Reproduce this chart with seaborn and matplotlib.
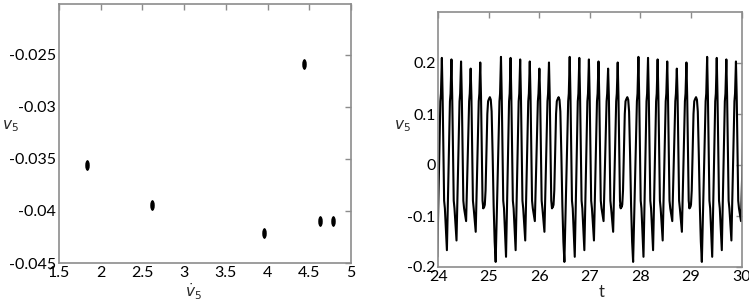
import numpy as np
import pandas as pd
import matplotlib
matplotlib.use("Agg")
import matplotlib.pyplot as plt
from matplotlib.path import Path
from matplotlib.transforms import Affine2D
import seaborn as sns

# ── Left panel: Poincare section points ────────────────────────────────────
SEC_VDOT = [1.83, 2.62, 3.96, 4.44, 4.63, 4.78]
SEC_V    = [-0.0356, -0.0394, -0.0421, -0.0259, -0.0410, -0.0410]

# ── Right panel: time trace, one burst group ───────────────────────────────
# times of the rounded low hump that starts each group
HUMP_T = [23.66, 25.02, 26.38, 27.74, 29.10]

# hump + fall to the deep minimum (offset from hump, value)
HUMP_DT = [0.000, 0.018, 0.035, 0.055, 0.075, 0.095, 0.115]
HUMP_V  = [0.133, 0.128, 0.105, 0.020, -0.080, -0.150, -0.190]

# six spikes per group: peak offset, peak value, minimum after the spike
SPIKE_DT   = [0.22, 0.41, 0.60, 0.79, 0.98, 1.17]
SPIKE_PEAK = [0.212, 0.210, 0.207, 0.203, 0.189, 0.201]
SPIKE_MIN  = [-0.180, -0.167, -0.148, -0.110, -0.131, None]

# shape of one spike around its peak (offset from peak, value)
SHAPE_DT = [-0.030, -0.018, 0.000, 0.015, 0.030, 0.045, 0.060]
SHAPE_V  = [0.125, 0.140, None, 0.135, 0.030, -0.070, -0.085]
MIN_DT   = 0.100

# rounded trough after the last spike, rising into the next hump
TROUGH_DT = [1.230, 1.245, 1.260, 1.275, 1.295, 1.310, 1.325, 1.340]
TROUGH_V  = [-0.078, -0.083, -0.078, -0.050, 0.040, 0.100, 0.125, 0.129]


def build_trace():
    ts, vs = [], []
    for h in HUMP_T:
        ts += [h + d for d in HUMP_DT]
        vs += HUMP_V
        for p, pk, mn in zip(SPIKE_DT, SPIKE_PEAK, SPIKE_MIN):
            for d, v in zip(SHAPE_DT, SHAPE_V):
                ts.append(h + p + d)
                vs.append(pk if v is None else v)
            if mn is not None:
                ts.append(h + p + MIN_DT)
                vs.append(mn)
        ts += [h + d for d in TROUGH_DT]
        vs += TROUGH_V
    return pd.DataFrame({"t": ts, "v": vs})


sns.set_style("white")
plt.rcParams["font.family"] = ["Lato", "DejaVu Sans"]
plt.rcParams["mathtext.fontset"] = "dejavusans"

GREY = "#8c8c8c"
fig = plt.figure(figsize=(7.49, 3.0), dpi=100)
ax1 = fig.add_axes([0.0788, 0.1233, 0.3898, 0.8634])
ax2 = fig.add_axes([0.5852, 0.1100, 0.4048, 0.8500])

ellipse = Path.unit_circle().transformed(Affine2D().scale(0.42, 1.0))

sec = pd.DataFrame({"vdot": SEC_VDOT, "v": SEC_V})
sns.scatterplot(data=sec, x="vdot", y="v", ax=ax1, marker=ellipse,
                s=60, color="black", edgecolor="black", linewidth=0)
ax1.set_xlim(1.5, 5)
ax1.set_ylim(-0.045, -0.0201)
ax1.set_xticks([1.5, 2, 2.5, 3, 3.5, 4, 4.5, 5])
ax1.set_xticklabels(["1.5", "2", "2.5", "3", "3.5", "4", "4.5", "5"])
ax1.set_yticks([-0.045, -0.04, -0.035, -0.03, -0.025])
ax1.set_yticklabels(["-0.045", "-0.04", "-0.035", "-0.03", "-0.025"])
ax1.set_xlabel(r"$\dot{v}_5$", fontsize=11)
ax1.xaxis.set_label_coords(0.46, -0.07)
ax1.set_ylabel(r"$v_5$", fontsize=11, rotation=0)
ax1.yaxis.set_label_coords(-0.165, 0.5)

trace = build_trace()
sns.lineplot(data=trace, x="t", y="v", ax=ax2, sort=False, estimator=None,
             color="black", linewidth=1.5)
ax2.set_xlim(24, 30)
ax2.set_ylim(-0.2, 0.3)
ax2.set_xticks([24, 25, 26, 27, 28, 29, 30])
ax2.set_yticks([-0.2, -0.1, 0, 0.1, 0.2])
ax2.set_yticklabels(["-0.2", "-0.1", "0", "0.1", "0.2"])
ax2.set_xlabel("t", fontsize=12)
ax2.xaxis.set_label_coords(0.54, -0.065)
ax2.set_ylabel(r"$v_5$", fontsize=11, rotation=0)
ax2.yaxis.set_label_coords(-0.12, 0.52)

for ax in (ax1, ax2):
    for sp in ax.spines.values():
        sp.set_visible(True)
        sp.set_color(GREY)
        sp.set_linewidth(1.2)
    ax.tick_params(direction="in", length=4, width=1, color=GREY,
                   top=True, right=True, labelsize=11.5, pad=2,
                   labelcolor="black")

fig.savefig("out.png", dpi=100)
